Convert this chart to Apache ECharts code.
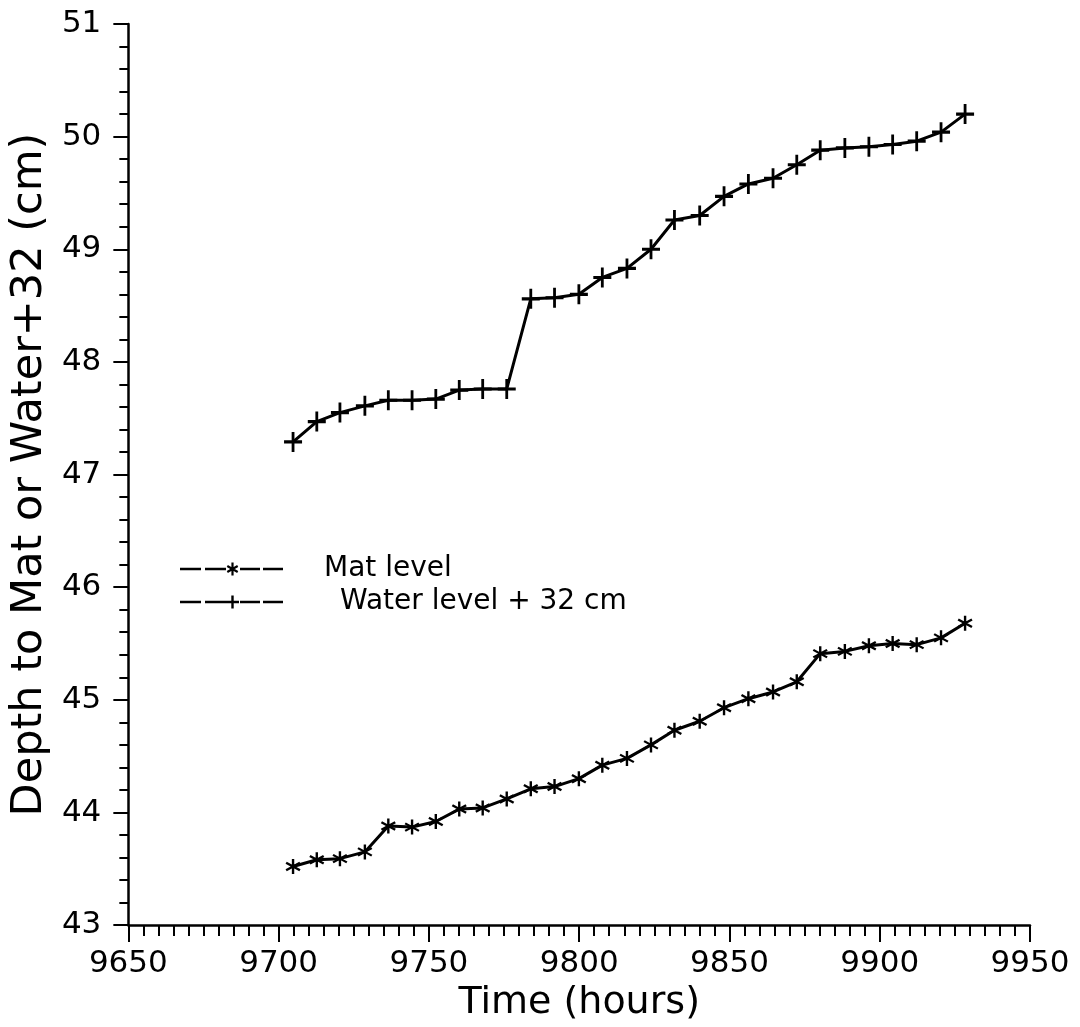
<!DOCTYPE html>
<html>
<head>
<meta charset="utf-8">
<script src="https://cdn.jsdelivr.net/npm/echarts@6/dist/echarts.min.js"></script>
<style>
html,body{margin:0;padding:0;background:#fff;}
#chart{width:1080px;height:1027px;}
</style>
</head>
<body>
<div id="chart"></div>
<script>
// Time of each reading (hours)
var times = [9704.8, 9712.7, 9720.4, 9728.7, 9736.5, 9744.4, 9752.3, 9760.1, 9767.9, 9775.9,
             9783.9, 9791.8, 9799.9, 9807.7, 9815.9, 9823.9, 9831.7, 9840.1, 9848.2, 9856.3,
             9864.5, 9872.4, 9880.2, 9888.4, 9896.4, 9904.3, 9912.3, 9920.4, 9928.4];
// Depth to mat (cm)
var matLevel = [43.52, 43.58, 43.59, 43.65, 43.88, 43.87, 43.92, 44.03, 44.04, 44.12,
                44.21, 44.23, 44.30, 44.42, 44.48, 44.60, 44.73, 44.81, 44.93, 45.01,
                45.07, 45.16, 45.41, 45.43, 45.48, 45.50, 45.49, 45.55, 45.68];
// Water level + 32 (cm)
var waterLevel = [47.29, 47.47, 47.55, 47.61, 47.66, 47.66, 47.67, 47.75, 47.76, 47.76,
                  48.56, 48.57, 48.60, 48.75, 48.83, 49.00, 49.26, 49.30, 49.47, 49.58,
                  49.63, 49.75, 49.88, 49.90, 49.91, 49.93, 49.96, 50.04, 50.20];
var seriesNames = ['Mat level', 'Water level + 32 cm'];
var xTicks = [9650, 9700, 9750, 9800, 9850, 9900, 9950];
var yTicks = [43, 44, 45, 46, 47, 48, 49, 50, 51];

function pairs(xs, ys) { return xs.map(function (x, i) { return [x, ys[i]]; }); }

var STAR = 'path://M-1.5,-10L1.5,-10L1.5,10L-1.5,10Z' +
           'M-9.41,-3.7L-7.91,-6.3L9.41,3.7L7.91,6.3Z' +
           'M7.91,-6.3L9.41,-3.7L-7.91,6.3L-9.41,3.7Z';
var PLUS = 'path://M-1.4,-9H1.4V-1.4H9V1.4H1.4V9H-1.4V1.4H-9V-1.4H-1.4Z';

var dashes = 'M0,-1.3L21,-1.3L21,1.3L0,1.3Z' + 'M25,-1.3L46,-1.3L46,1.3L25,1.3Z' +
             'M60,-1.3L80,-1.3L80,1.3L60,1.3Z' + 'M83,-1.3L103,-1.3L103,1.3L83,1.3Z';
var ICON_STAR = 'path://' + dashes +
  'M51.4,-6.5L53.6,-6.5L53.6,6.5L51.4,6.5Z' +
  'M46.75,-2.05L47.85,-3.95L58.25,2.05L57.15,3.95Z' +
  'M57.15,-3.95L58.25,-2.05L47.85,3.95L46.75,2.05Z';
var ICON_PLUS = 'path://' + dashes +
  'M46,-1.3L59,-1.3L59,1.3L46,1.3Z' +
  'M51.3,-6.5L53.7,-6.5L53.7,6.5L51.3,6.5Z';

var FONT = 'DejaVu Sans';
var chart = echarts.init(document.getElementById('chart'), null, {renderer: 'canvas'});
chart.setOption({
  backgroundColor: '#ffffff',
  animation: false,
  grid: {left: 128, right: 50, top: 24, bottom: 99, containLabel: false},
  legend: {
    orient: 'vertical',
    left: 175,
    top: 549,
    itemGap: 3,
    itemWidth: 103,
    itemHeight: 13,
    selectedMode: false,
    data: [
      {name: seriesNames[0], icon: ICON_STAR},
      {name: seriesNames[1], icon: ICON_PLUS}
    ],
    itemStyle: {color: '#000', borderWidth: 0},
    formatter: function (name) {
      return (name === seriesNames[0] ? '{g|}' : '{h|}') + '{t|' + name + '}';
    },
    textStyle: {
      color: '#000', fontFamily: FONT, fontSize: 28, lineHeight: 30,
      rich: {
        g: {width: 36},
        h: {width: 52},
        t: {fontFamily: FONT, fontSize: 28, color: '#000', lineHeight: 30}
      }
    }
  },
  xAxis: {
    type: 'value',
    min: xTicks[0],
    max: xTicks[xTicks.length - 1],
    interval: 50,
    name: 'Time (hours)',
    nameLocation: 'middle',
    nameGap: 56,
    nameTextStyle: {fontFamily: FONT, fontSize: 38, color: '#000'},
    axisLine: {onZero: false, lineStyle: {color: '#000', width: 2.5}},
    axisTick: {show: true, length: 17, lineStyle: {color: '#000', width: 2}},
    minorTick: {show: true, splitNumber: 10, length: 11, lineStyle: {color: '#000', width: 2}},
    axisLabel: {fontFamily: FONT, fontSize: 31, color: '#000', margin: 23,
                formatter: function (v) { return String(v); }},
    splitLine: {show: false},
    minorSplitLine: {show: false}
  },
  yAxis: {
    type: 'value',
    min: yTicks[0],
    max: yTicks[yTicks.length - 1],
    interval: 1,
    name: 'Depth to Mat or Water+32 (cm)',
    nameLocation: 'middle',
    nameGap: 70,
    nameTextStyle: {fontFamily: FONT, fontSize: 43, color: '#000'},
    axisLine: {show: true, onZero: false, lineStyle: {color: '#000', width: 2.5}},
    axisTick: {show: true, length: 15, lineStyle: {color: '#000', width: 2}},
    minorTick: {show: true, splitNumber: 5, length: 9, lineStyle: {color: '#000', width: 2}},
    axisLabel: {fontFamily: FONT, fontSize: 31, color: '#000', margin: 27,
                formatter: function (v) { return String(v); }},
    splitLine: {show: false},
    minorSplitLine: {show: false}
  },
  series: [
    {
      name: seriesNames[0],
      type: 'line',
      data: pairs(times, matLevel),
      symbol: STAR,
      symbolSize: 15,
      itemStyle: {color: '#000'},
      lineStyle: {color: '#000', width: 3},
      showAllSymbol: true
    },
    {
      name: seriesNames[1],
      type: 'line',
      data: pairs(times, waterLevel),
      symbol: PLUS,
      symbolSize: [18, 20],
      itemStyle: {color: '#000'},
      lineStyle: {color: '#000', width: 3},
      showAllSymbol: true
    }
  ]
});
</script>
</body>
</html>
